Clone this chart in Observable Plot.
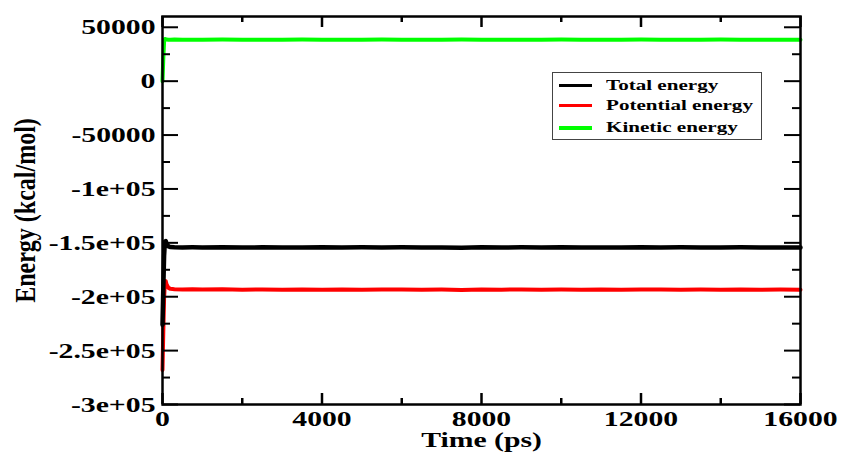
<!DOCTYPE html>
<html><head><meta charset="utf-8">
<script src="https://cdn.jsdelivr.net/npm/d3@7"></script>
<script src="https://cdn.jsdelivr.net/npm/@observablehq/plot@0.6"></script>
<style>
body{margin:0;background:#fff;}
#wrap{position:relative;width:842px;height:453px;overflow:hidden;}
#legend{position:absolute;left:552px;top:72px;width:210px;height:68px;border:1px solid #444;box-sizing:border-box;background:#fff;font-family:"Liberation Serif",serif;font-weight:bold;font-size:15.5px;}
.row{position:absolute;left:0;width:100%;height:0;}
.sw{position:absolute;left:6px;top:-1.5px;width:33px;height:3.5px;}
.lab{position:absolute;left:53px;top:-9.5px;line-height:18px;white-space:nowrap;transform:scaleX(1.36);transform-origin:left center;}
</style></head><body>
<div id="wrap"><div id="legend"></div></div>
<script>
const time = [0,20,40,60,80,100,150,200,300,500,750,1000,1500,2000,2500,3000,3500,4000,4500,5000,5500,6000,6500,7000,7500,8000,8500,9000,9500,10000,10500,11000,11500,12000,12500,13000,13500,14000,14500,15000,15500,16000];
const totalEnergy = [-226000,-192000,-162000,-148800,-148300,-150800,-153300,-153900,-154100,-154300,-154200,
  -154300,-154100,-154400,-154150,-154350,-154250,-154050,-154400,-154200,-154300,
  -154150,-154350,-154250,-154450,-154100,-154300,-154200,-154400,-154150,-154350,
  -154250,-154300,-154100,-154400,-154200,-154350,-154250,-154150,-154400,-154300,-154250];
const potentialEnergy = [-268000,-232000,-201000,-186500,-185500,-188500,-191800,-192700,-193000,-193200,-193100,
  -193400,-193150,-193500,-193250,-193600,-193300,-193450,-193200,-193550,-193350,
  -193250,-193500,-193400,-193650,-193300,-193450,-193200,-193550,-193350,-193500,
  -193250,-193600,-193400,-193300,-193550,-193350,-193450,-193250,-193500,-193400,-193450];
const kineticEnergy = [0,21000,36500,39200,38900,38600,38500,38400,38550,38450,38500,
  38420,38580,38470,38530,38400,38560,38480,38520,38440,38590,
  38460,38510,38430,38570,38490,38450,38540,38410,38560,38470,
  38530,38440,38580,38460,38500,38420,38550,38480,38520,38450,38500];

const seriesNames = ["Total energy","Potential energy","Kinetic energy"];
const seriesColors = ["#000000","#ff0000","#00ff00"];

const yMajor = [50000,0,-50000,-100000,-150000,-200000,-250000,-300000];
const yLabels = ["50000","0","-50000","-1e+05","-1.5e+05","-2e+05","-2.5e+05","-3e+05"];
const yMinor = [25000,-25000,-75000,-125000,-175000,-225000,-275000];
const xMajor = [0,4000,8000,12000,16000];
const xLabels = ["0","4000","8000","12000","16000"];
const xMinor = [2000,6000,10000,14000];
const xTitle = "Time (ps)";
const yTitle = "Energy (kcal/mol)";

const data = time.map((t,i)=>({t, total: totalEnergy[i], pot: potentialEnergy[i], kin: kineticEnergy[i]}));
const yLab = new Map(yMajor.map((v,i)=>[v,yLabels[i]]));
const xLab = new Map(xMajor.map((v,i)=>[v,xLabels[i]]));
const FW = 638, FH = 388; // frame size in px (842-162-42, 453-16-49)
const font = {fontFamily:"Liberation Serif, serif", fontWeight:"bold"};

const chart = Plot.plot({
  width: 842, height: 453,
  marginLeft: 162, marginRight: 42, marginTop: 16, marginBottom: 49,
  style: {fontFamily:"Liberation Serif, serif", fontWeight:"bold", fontSize:"22px", background:"#fff", color:"#000"},
  x: {domain:[0,16000], axis:null},
  y: {domain:[-300000,60000], axis:null},
  marks: [
    Plot.line(data, {x:"t", y:"kin", stroke:seriesColors[2], strokeWidth:4}),
    Plot.line(data, {x:"t", y:"pot", stroke:seriesColors[1], strokeWidth:4}),
    Plot.line(data, {x:"t", y:"total", stroke:seriesColors[0], strokeWidth:4.5}),
    // inward ticks
    Plot.tickY(yMajor, {y:d=>d, insetRight:FW-16, strokeWidth:2}),
    Plot.tickY(yMinor, {y:d=>d, insetRight:FW-8, strokeWidth:2}),
    Plot.tickY(yMajor, {y:d=>d, insetLeft:FW-16, strokeWidth:2}),
    Plot.tickY(yMinor, {y:d=>d, insetLeft:FW-8, strokeWidth:2}),
    Plot.tickX(xMajor, {x:d=>d, insetTop:FH-11, strokeWidth:2.5}),
    Plot.tickX(xMinor, {x:d=>d, insetTop:FH-6, strokeWidth:2.5}),
    Plot.tickX(xMajor, {x:d=>d, insetBottom:FH-11, strokeWidth:2.5}),
    Plot.tickX(xMinor, {x:d=>d, insetBottom:FH-6, strokeWidth:2.5}),
    // labels
    Plot.axisY(yMajor, {anchor:"left", tickSize:0, tickPadding:7, tickFormat:d=>yLab.get(d), fontSize:22, ...font, label:null}),
    Plot.axisX(xMajor, {anchor:"bottom", tickSize:0, tickPadding:6, tickFormat:d=>xLab.get(d), fontSize:22, ...font, label:null}),
    Plot.frame({stroke:"#000", strokeWidth:2.5}),
    Plot.text([xTitle], {frameAnchor:"bottom", lineAnchor:"top", dy:27, fontSize:22, ...font}),
    Plot.text([yTitle], {frameAnchor:"left", textAnchor:"middle", dx:-137, rotate:-90, fontSize:24, ...font})
  ]
});

const wrap = document.getElementById("wrap");
wrap.prepend(chart);
// the reference image is stretched horizontally: stretch the glyphs the same way
chart.querySelectorAll("text").forEach(t => {
  if (!t.textContent) return;
  if (t.textContent === yTitle) {
    const tr = t.getAttribute("transform") || "";
    if (tr.includes("rotate")) t.setAttribute("transform", tr + " scale(1,1.25)");
    return;
  }
  const len = t.getComputedTextLength();
  if (len > 0) {
    t.setAttribute("textLength", (len*1.35).toFixed(1));
    t.setAttribute("lengthAdjust", "spacingAndGlyphs");
  }
});

const legend = document.getElementById("legend");
const rowTops = [12, 32, 54.5];
seriesNames.forEach((name,i) => {
  const row = document.createElement("div");
  row.className = "row";
  row.style.top = rowTops[i] + "px";
  const sw = document.createElement("div");
  sw.className = "sw";
  sw.style.background = seriesColors[i];
  const lab = document.createElement("span");
  lab.className = "lab";
  lab.textContent = name;
  row.append(sw, lab);
  legend.append(row);
});
</script>
</body></html>
